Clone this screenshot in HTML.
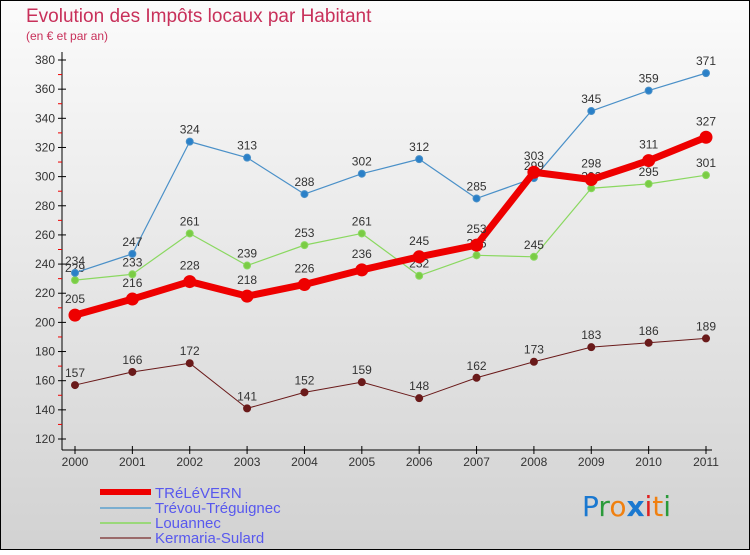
<!DOCTYPE html>
<html><head><meta charset="utf-8"><style>
html,body{margin:0;padding:0}
body{width:750px;height:550px;overflow:hidden;font-family:"Liberation Sans",sans-serif}
</style></head><body>
<svg id="chart" width="750" height="550" xmlns="http://www.w3.org/2000/svg" font-family="Liberation Sans, sans-serif">
<defs><linearGradient id="bg" x1="0" y1="0" x2="0" y2="1"><stop offset="0" stop-color="#fbfbfb"/><stop offset="1" stop-color="#d2d2d2"/></linearGradient></defs>
<rect x="0.5" y="0.5" width="749" height="549" fill="url(#bg)" stroke="#000"/>
<text x="26" y="22" font-size="19" fill="#c8305a">Evolution des Impôts locaux par Habitant</text>
<text x="26" y="40" font-size="12" fill="#c8305a">(en € et par an)</text>
<g id="axes"></g><g id="series"></g>
<g>
<rect x="100" y="489" width="51" height="6" fill="#e00"/>
<rect x="100" y="507" width="51" height="2" fill="#7aaed0"/>
<rect x="100" y="522" width="51" height="2" fill="#9ad87a"/>
<rect x="100" y="537" width="51" height="2" fill="#9a6a6a"/>
<text x="155" y="498" font-size="15" fill="#5858ee">TRéLéVERN</text>
<text x="155" y="513" font-size="15" fill="#5858ee">Trévou-Tréguignec</text>
<text x="155" y="528" font-size="15" fill="#5858ee">Louannec</text>
<text x="155" y="543" font-size="15" fill="#5858ee">Kermaria-Sulard</text>
</g>
<g font-size="28" font-family="DejaVu Sans, sans-serif">
<text x="582" y="516"><tspan fill="#1a78d0">P</tspan><tspan fill="#2a9a3a">r</tspan><tspan fill="#f08010">o</tspan><tspan fill="#1a78d0" font-weight="bold">x</tspan><tspan fill="#e02020">i</tspan><tspan fill="#f08010">t</tspan><tspan fill="#2a9a3a">i</tspan></text>
</g>
</svg>
<script>
const years = ['2000','2001','2002','2003','2004','2005','2006','2007','2008','2009','2010','2011'];
const trelevern = [205,216,228,218,226,236,245,253,303,298,311,327];
const trevou = [234,247,324,313,288,302,312,285,299,345,359,371];
const louannec = [229,233,261,239,253,261,232,246,245,292,295,301];
const kermaria = [157,166,172,141,152,159,148,162,173,183,186,189];
const yTicks = [120,140,160,180,200,220,240,260,280,300,320,340,360,380];

const NS='http://www.w3.org/2000/svg';
const x0=75,x1=706,yMin=120,yMax=380,py0=439,py1=60;
const xs=i=>x0+(x1-x0)*i/(years.length-1);
const ys=v=>py0-(v-yMin)*(py0-py1)/(yMax-yMin);
function mk(tag,attrs,parent){const e=document.createElementNS(NS,tag);for(const k in attrs)e.setAttribute(k,attrs[k]);parent.appendChild(e);return e;}
const axes=document.getElementById('axes');
const yAxis=mk('line',{x1:62,y1:52,x2:62,y2:450,stroke:'#000'},axes);


const xAxis=mk('line',{x1:62,y1:450,x2:712,y2:450,stroke:'#000'},axes);


yTicks.forEach((v,i)=>{
  const y=ys(v);
  mk('line',{x1:58,y1:y,x2:66,y2:y,stroke:'#000'},axes);
  if(i<yTicks.length-1){mk('line',{x1:58,y1:ys(v+10),x2:62,y2:ys(v+10),stroke:'#e00'},axes);}
  const t=mk('text',{x:55,y:y+4,'font-size':12,fill:'#333','text-anchor':'end'},axes);
  t.textContent=v;
  
  
});
years.forEach((yr,i)=>{
  const x=xs(i);
  mk('line',{x1:x,y1:446,x2:x,y2:454,stroke:'#000'},axes);
  const t=mk('text',{x:x,y:466,'font-size':12,fill:'#333','text-anchor':'middle'},axes);
  t.textContent=yr;
  
  
});
const ser=document.getElementById('series');
function draw(data,name,color,lw,r,dot,labelDy){
  const g=mk('g',{},ser);
  
  
  const pts=data.map((v,i)=>xs(i)+','+ys(v)).join(' ');
  mk('polyline',{points:pts,fill:'none',stroke:color,'stroke-width':lw,'stroke-linejoin':'round'},g);
  data.forEach((v,i)=>{
    const c=mk('circle',{cx:xs(i),cy:ys(v),r:r,fill:dot,stroke:color,'stroke-width':1},g);
    
    
    const t=mk('text',{x:xs(i),y:ys(v)+labelDy,'font-size':12,fill:'#333','text-anchor':'middle'},g);
    t.textContent=v;
    
    
  });
}
draw(kermaria,'kermaria','#6a1a1a',1,3.5,'#6a1a1a',-8);
draw(louannec,'louannec','#8ad860',1.2,3.5,'#7acc44',-8);
draw(trevou,'trevou','#4a90c8',1.2,3.5,'#2a80c8',-8);
draw(trelevern,'trelevern','#ee0000',7,6,'#ee0000',-12);
</script>
</body></html>
